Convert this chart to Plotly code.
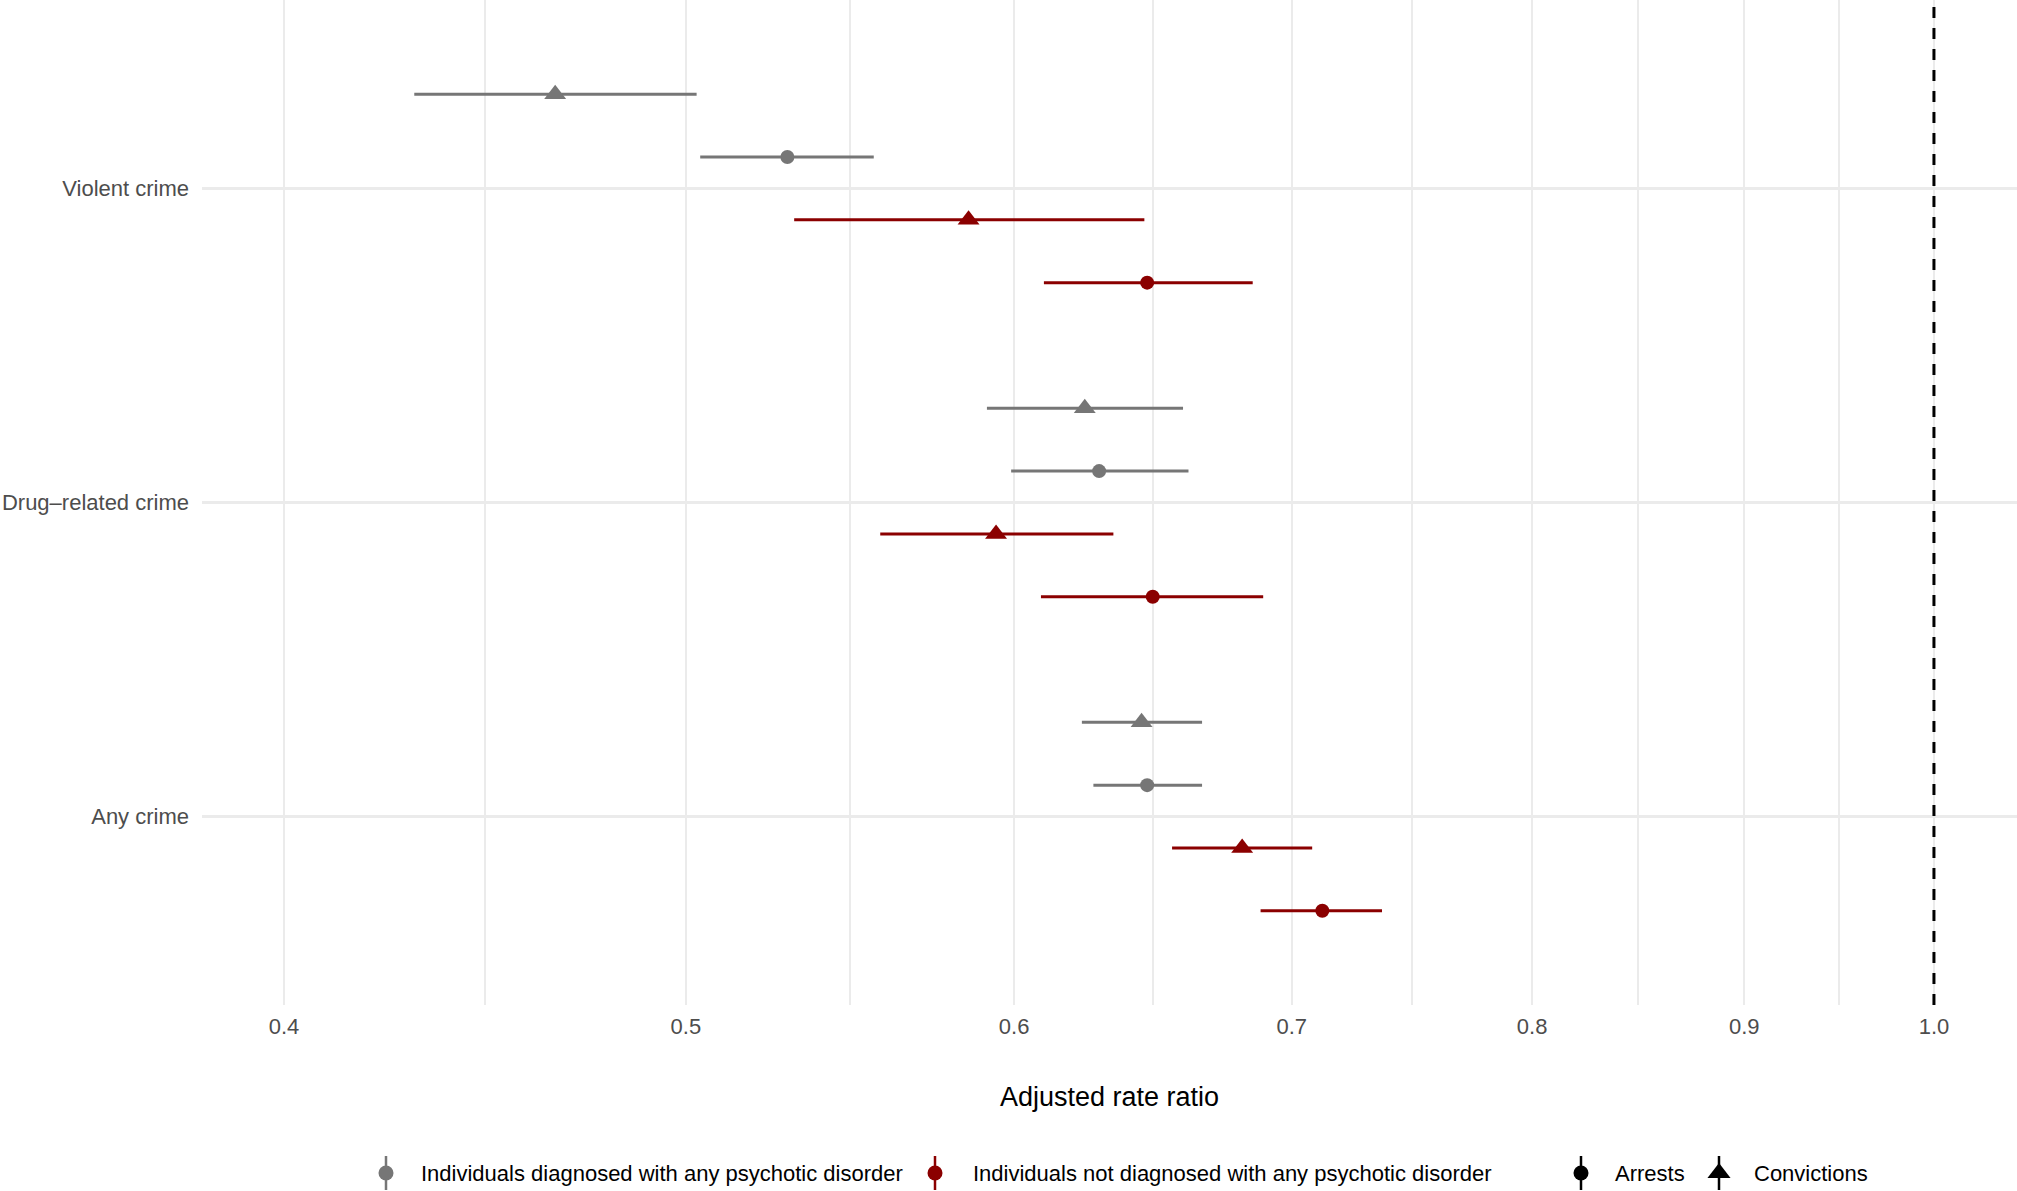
import math
import plotly.graph_objects as go

# ---------------- data ----------------
categories = ["Violent crime", "Drug\u2013related crime", "Any crime"]

psy_conv = [0.465, 0.624, 0.644]
psy_conv_lo = [0.430, 0.591, 0.623]
psy_conv_hi = [0.503, 0.659, 0.666]

psy_arrest = [0.529, 0.629, 0.646]
psy_arrest_lo = [0.504, 0.599, 0.627]
psy_arrest_hi = [0.555, 0.661, 0.666]

non_conv = [0.585, 0.594, 0.681]
non_conv_lo = [0.531, 0.557, 0.655]
non_conv_hi = [0.645, 0.634, 0.708]

non_arrest = [0.646, 0.648, 0.712]
non_arrest_lo = [0.610, 0.609, 0.688]
non_arrest_hi = [0.685, 0.689, 0.736]

x_ticks = [0.4, 0.5, 0.6, 0.7, 0.8, 0.9, 1.0]
x_tick_labels = ["0.4", "0.5", "0.6", "0.7", "0.8", "0.9", "1.0"]

group_names = ["Individuals diagnosed with any psychotic disorder",
               "Individuals not diagnosed with any psychotic disorder"]
outcome_names = ["Arrests", "Convictions"]

# ---------------- style ----------------
W, H = 2017, 1191
GREY = "#767676"
RED = "#8B0000"
GRID = "#EBEBEB"
FONT = "Liberation Sans, Arial, Helvetica, sans-serif"
SYM = {"Arrests": "circle", "Convictions": "triangle-up"}
SIZE = {"Arrests": 14, "Convictions": 19}

# panel placement in pixels
PL, PB = 202, 186

series = [
    # (values, lo, hi, colour, outcome, dodge offset)
    (psy_conv, psy_conv_lo, psy_conv_hi, GREY, "Convictions", 0.3),
    (psy_arrest, psy_arrest_lo, psy_arrest_hi, GREY, "Arrests", 0.1),
    (non_conv, non_conv_lo, non_conv_hi, RED, "Convictions", -0.1),
    (non_arrest, non_arrest_lo, non_arrest_hi, RED, "Arrests", -0.3),
]

n = len(categories)
base_y = [n - i for i in range(n)]

fig = go.Figure()

for vals, lo, hi, col, outc, off in series:
    fig.add_trace(go.Scatter(
        x=vals,
        y=[b + off for b in base_y],
        mode="markers",
        marker=dict(symbol=SYM[outc], size=SIZE[outc], color=col,
                    line=dict(width=0)),
        error_x=dict(type="data", symmetric=False,
                     array=[h - v for h, v in zip(hi, vals)],
                     arrayminus=[v - l for v, l in zip(vals, lo)],
                     color=col, thickness=3, width=0),
        showlegend=False, hoverinfo="x+y",
        xaxis="x", yaxis="y",
    ))

# reference line at 1
fig.add_shape(type="line", xref="x", yref="y domain", x0=1, x1=1, y0=0, y1=1,
              line=dict(color="black", width=3, dash="11px,10px"), layer="above")

# ---------------- manual legend (pixel-space overlay axes) ----------------
LEG_Y = 1173
legend_items = [
    (386, 419, GREY, "circle", 15, group_names[0]),
    (935, 971, RED, "circle", 15, group_names[1]),
    (1581, 1613, "black", "circle", 15, outcome_names[0]),
    (1719, 1752, "black", "triangle-up", 20, outcome_names[1]),
]
for gx, tx, col, sym, sz, label in legend_items:
    fig.add_trace(go.Scatter(
        x=[gx], y=[LEG_Y], mode="markers",
        marker=dict(symbol=sym, size=sz, color=col, line=dict(width=0)),
        error_y=dict(type="constant", value=17, color=col, thickness=2.5, width=0),
        xaxis="x2", yaxis="y2", showlegend=False, hoverinfo="skip",
    ))
    fig.add_annotation(text=label, xref="paper", yref="paper",
                       x=tx / W, y=1 - LEG_Y / H, xanchor="left", yanchor="middle",
                       showarrow=False, font=dict(family=FONT, size=22, color="black"))

# x-axis title
fig.add_annotation(text="Adjusted rate ratio", xref="paper", yref="paper",
                   x=((PL + W) / 2) / W, y=1 - 1097 / H, xanchor="center", yanchor="middle",
                   showarrow=False, font=dict(family=FONT, size=27, color="black"))

minor_vals = [math.sqrt(a * b) for a, b in zip(x_ticks[:-1], x_ticks[1:])]

fig.update_layout(
    width=W, height=H,
    margin=dict(l=0, r=0, t=0, b=0),
    paper_bgcolor="white",
    plot_bgcolor="rgba(0,0,0,0)",
    font=dict(family=FONT),
    showlegend=False,
    xaxis=dict(
        type="log", domain=[PL / W, 1],
        range=[-0.41773, 0.02003],
        tickmode="array", tickvals=x_ticks, ticktext=x_tick_labels,
        tickfont=dict(family=FONT, size=22, color="#4D4D4D"),
        ticks="", ticklabelstandoff=6,
        showgrid=True, gridcolor=GRID, gridwidth=2,
        minor=dict(tickmode="array", tickvals=minor_vals, showgrid=True,
                   gridcolor=GRID, gridwidth=2, ticks=""),
        zeroline=False, showline=False, automargin=False, anchor="y",
    ),
    yaxis=dict(
        domain=[PB / H, 1], range=[0.4, 3.6],
        tickmode="array", tickvals=base_y, ticktext=categories,
        tickfont=dict(family=FONT, size=22, color="#4D4D4D"),
        ticks="", ticklabelstandoff=12,
        showgrid=True, gridcolor=GRID, gridwidth=3,
        zeroline=False, showline=False, automargin=False, anchor="x",
    ),
    xaxis2=dict(domain=[0, 1], range=[0, W], visible=False, anchor="y2",
                fixedrange=True),
    yaxis2=dict(domain=[0, 1], range=[H, 0], visible=False, anchor="x2",
                fixedrange=True),
)

fig.write_html(
    "out.html",
    config={"displayModeBar": False},
    post_script="document.body.style.margin='0px';"
                "document.body.style.padding='0px';"
                "document.body.style.overflow='hidden';",
)
